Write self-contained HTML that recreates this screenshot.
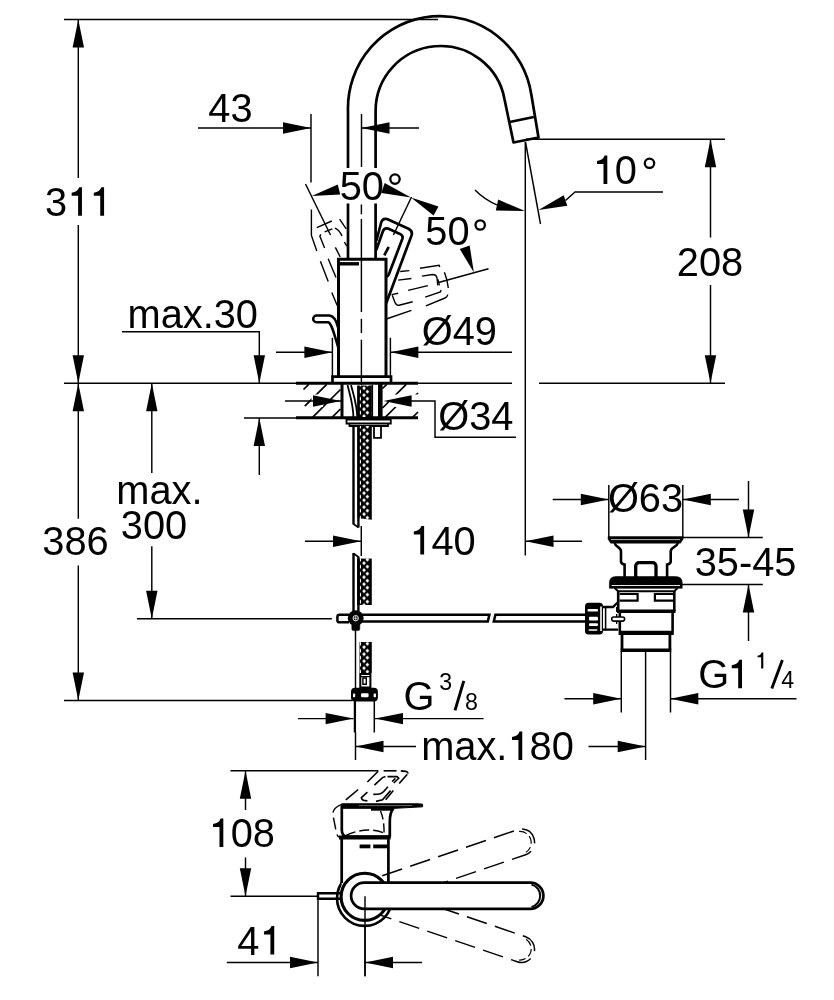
<!DOCTYPE html>
<html><head><meta charset="utf-8"><title>Faucet dimensions</title>
<style>
html,body{margin:0;padding:0;background:#fff;}
svg{display:block;filter:grayscale(1);}
svg text{font-family:"Liberation Sans",sans-serif;fill:#000;stroke:none;font-kerning:none;}
</style></head><body>
<svg width="834" height="1000" viewBox="0 0 834 1000" fill="none" stroke="#000" stroke-linecap="butt">
<defs>
<pattern id="braid" x="357.1" y="3.2" width="14.7" height="7" patternUnits="userSpaceOnUse">
<rect width="14.7" height="7" fill="#000" stroke="none"/>
<rect x="2.8" y="1.7" width="1.1" height="3.6" fill="#fff" stroke="none"/>
<path d="M6.9,-1.9 L8.8,0 L6.9,1.9 L5,0Z M6.9,5.1 L8.8,7 L6.9,8.9 L5,7Z M10.25,1.6 L12.15,3.5 L10.25,5.4 L8.35,3.5Z" fill="#fff" stroke="none"/>
</pattern>
</defs>
<rect x="0" y="0" width="834" height="1000" fill="#fff" stroke="none"/>
<path d="M311.4,209.6 V235.4 L316.8,251" stroke-width="1.4" />
<path d="M320.4,261.2 L328.2,281.6" stroke-width="1.4" />
<path d="M331.8,292.4 L337.2,305.6" stroke-width="1.4" />
<path d="M316.8,227.6 L331.8,221" stroke-width="1.4" />
<path d="M324.6,231.8 L332.4,228.8" stroke-width="1.4" />
<path d="M321,234.3 L319.8,236 L324.6,248" stroke-width="1.4" />
<path d="M334.8,228.2 Q339,229.5 342,236" stroke-width="1.4" />
<path d="M339.6,219.2 L346.2,228.8" stroke-width="1.4" />
<path d="M344.4,242 L346.8,246.2" stroke-width="1.4" />
<path d="M335.4,247.4 L340.2,257" stroke-width="1.4" />
<path d="M328.2,258.8 L336,277.4" stroke-width="1.4" />
<path d="M400.2,271.5 L409.4,270.6" stroke-width="1.4" />
<path d="M420,268.2 L439.1,265.3 L439.8,267" stroke-width="1.4" />
<path d="M398.2,280.1 L411.4,278.5" stroke-width="1.4" />
<path d="M421.9,276.1 L432.5,274.5 Q436.5,274.6 437,278 L437.8,285.3" stroke-width="1.4" />
<path d="M444.4,272.2 Q447.5,280 448.3,288" stroke-width="1.4" />
<path d="M438,279.4 L439.4,285.3" stroke-width="1.4" />
<path d="M408.1,290.4 L427.9,285.6" stroke-width="1.4" />
<path d="M391.6,294.6 L398.2,293.3" stroke-width="1.4" />
<path d="M425.2,297.2 L440.4,291.9 L441,290" stroke-width="1.4" />
<path d="M392.3,295.2 L394.2,300.5 Q396,306 399,305.3 L412.7,301.8" stroke-width="1.4" />
<path d="M425.9,305.8 L445,298 Q447.5,296.8 447.8,294.5" stroke-width="1.4" />
<line x1="386.3" y1="319" x2="411.4" y2="310.4" stroke-width="1.4" />
<line x1="303.5" y1="389.5" x2="308.7" y2="384.3" stroke-width="1.7" />
<line x1="304.8" y1="406.2" x2="326.7" y2="384.3" stroke-width="1.7" />
<line x1="312.8" y1="417.2" x2="340.5" y2="389.5" stroke-width="1.7" />
<line x1="332.3" y1="417.2" x2="340.5" y2="409.0" stroke-width="1.7" />
<line x1="382.5" y1="388.5" x2="386.7" y2="384.3" stroke-width="1.7" />
<line x1="382.5" y1="408.0" x2="406.2" y2="384.3" stroke-width="1.7" />
<line x1="385.4" y1="417.2" x2="396.6" y2="406.0" stroke-width="1.7" />
<line x1="411" y1="400" x2="418" y2="393" stroke-width="1.7" />
<line x1="412.8" y1="417.2" x2="418" y2="412" stroke-width="1.7" />
<rect x="311.5" y="394.5" width="11.5" height="12.5" fill="#fff" stroke="none"/>
<rect x="389" y="394.5" width="29.5" height="12.5" fill="#fff" stroke="none"/>
<line x1="64" y1="19.5" x2="438" y2="19.5" stroke-width="1.45" />
<line x1="78.3" y1="19.5" x2="78.3" y2="178" stroke-width="1.45" />
<line x1="78.3" y1="225" x2="78.3" y2="518.75" stroke-width="1.45" />
<line x1="78.3" y1="565.5" x2="78.3" y2="700.5" stroke-width="1.45" />
<polygon points="78.30,19.50 72.60,47.50 84.00,47.50" fill="#000" stroke="none"/>
<polygon points="78.30,383.20 84.00,355.20 72.60,355.20" fill="#000" stroke="none"/>
<polygon points="78.30,383.20 72.60,411.20 84.00,411.20" fill="#000" stroke="none"/>
<polygon points="78.30,700.50 84.00,672.50 72.60,672.50" fill="#000" stroke="none"/>
<line x1="64" y1="383.2" x2="512" y2="383.2" stroke-width="1.45" />
<line x1="539" y1="383.2" x2="725" y2="383.2" stroke-width="1.45" />
<line x1="64" y1="700.5" x2="352.5" y2="700.5" stroke-width="1.45" />
<text x="45" y="215.7" font-size="39.8">3</text>
<path d="M81.94,215.7 V187.19 H79.22 Q77.81,191.82 71.66,192.73 V195.65 H78.11 V215.7 Z" fill="#000" stroke="none"/>
<path d="M104.07,215.7 V187.19 H101.35 Q99.94,191.82 93.79,192.73 V195.65 H100.24 V215.7 Z" fill="#000" stroke="none"/>
<text x="42.3" y="555" font-size="39.8">386</text>
<line x1="198" y1="128" x2="311" y2="128" stroke-width="1.45" />
<polygon points="311.00,128.00 283.00,122.30 283.00,133.70" fill="#000" stroke="none"/>
<polygon points="361.50,128.00 389.50,133.70 389.50,122.30" fill="#000" stroke="none"/>
<line x1="361.5" y1="128" x2="419" y2="128" stroke-width="1.45" />
<line x1="311" y1="114" x2="311" y2="182.5" stroke-width="1.45" />
<line x1="361.5" y1="114" x2="361.5" y2="167" stroke-width="1.45" />
<text x="208.3" y="122" font-size="39.8">43</text>
<line x1="526" y1="139.3" x2="725" y2="139.3" stroke-width="1.45" />
<line x1="710.5" y1="139.3" x2="710.5" y2="237.5" stroke-width="1.45" />
<line x1="710.5" y1="285" x2="710.5" y2="383.2" stroke-width="1.45" />
<polygon points="710.50,139.30 704.80,167.30 716.20,167.30" fill="#000" stroke="none"/>
<polygon points="710.50,383.20 716.20,355.20 704.80,355.20" fill="#000" stroke="none"/>
<text x="676.8" y="275.75" font-size="39.8">208</text>
<line x1="525.3" y1="142" x2="525.3" y2="555.5" stroke-width="1.45" />
<line x1="525.5" y1="142" x2="540.5" y2="224" stroke-width="1.45" />
<polygon points="525.00,211.00 498.15,199.62 495.85,210.38" fill="#000" stroke="none"/>
<polygon points="538.50,210.00 567.33,205.69 563.67,195.31" fill="#000" stroke="none"/>
<path d="M475,190 A69.5,69.5 0 0 0 497.5,205.2" stroke-width="1.45" />
<path d="M565.5,200.5 L575,192 H663" stroke-width="1.45" />
<path d="M607.31,184 V155.49 H604.59 Q603.18,160.12 597.03,161.03 V163.95 H603.48 V184 Z" fill="#000" stroke="none"/>
<text x="614.63" y="184" font-size="39.8">0</text>
<circle cx="649.5" cy="163.3" r="4.7" stroke-width="2.3" fill="none"/>
<line x1="305.5" y1="184" x2="330.5" y2="235" stroke-width="1.45" />
<line x1="411.5" y1="197" x2="393.4" y2="235" stroke-width="1.45" />
<line x1="488.5" y1="268.7" x2="438.5" y2="282.5" stroke-width="1.45" />
<text x="127.5" y="327.5" font-size="39.8">max.30</text>
<path d="M122,331.8 H259.3 V383" stroke-width="1.45" />
<polygon points="259.30,383.20 265.00,355.20 253.60,355.20" fill="#000" stroke="none"/>
<line x1="244" y1="418" x2="296" y2="418" stroke-width="1.45" />
<polygon points="259.30,418.00 253.60,446.00 265.00,446.00" fill="#000" stroke="none"/>
<line x1="259.3" y1="418" x2="259.3" y2="475" stroke-width="1.45" />
<text x="116.3" y="504.3" font-size="39.8">max.</text>
<text x="120.8" y="538.8" font-size="39.8">300</text>
<line x1="151.8" y1="383.2" x2="151.8" y2="473" stroke-width="1.45" />
<polygon points="151.80,383.20 146.10,411.20 157.50,411.20" fill="#000" stroke="none"/>
<line x1="151.8" y1="546.3" x2="151.8" y2="618.8" stroke-width="1.45" />
<polygon points="151.80,618.80 157.50,590.80 146.10,590.80" fill="#000" stroke="none"/>
<line x1="137" y1="618.8" x2="331.8" y2="618.8" stroke-width="1.45" />
<line x1="276" y1="352.3" x2="332.4" y2="352.3" stroke-width="1.45" />
<polygon points="332.40,352.30 304.40,346.60 304.40,358.00" fill="#000" stroke="none"/>
<polygon points="390.40,352.30 418.40,358.00 418.40,346.60" fill="#000" stroke="none"/>
<line x1="390.4" y1="352.3" x2="512" y2="352.3" stroke-width="1.45" />
<line x1="332.4" y1="337.8" x2="332.4" y2="377" stroke-width="1.45" />
<line x1="390.4" y1="337.8" x2="390.4" y2="377" stroke-width="1.45" />
<text x="421.7" y="345" font-size="39.8">Ø49</text>
<line x1="285" y1="401" x2="341" y2="401" stroke-width="1.45" />
<polygon points="341.00,401.00 313.00,395.30 313.00,406.70" fill="#000" stroke="none"/>
<polygon points="383.60,401.00 411.60,406.70 411.60,395.30" fill="#000" stroke="none"/>
<path d="M410,401 H435 V437.3 H516" stroke-width="1.45" />
<text x="438.2" y="429.5" font-size="39.8">Ø34</text>
<line x1="305" y1="541.3" x2="361" y2="541.3" stroke-width="1.45" />
<polygon points="361.00,541.30 333.00,535.60 333.00,547.00" fill="#000" stroke="none"/>
<line x1="361.3" y1="526" x2="361.3" y2="556" stroke-width="1.45" />
<polygon points="525.50,541.30 553.50,547.00 553.50,535.60" fill="#000" stroke="none"/>
<line x1="525.5" y1="541.3" x2="582" y2="541.3" stroke-width="1.45" />
<path d="M424.11,554.5 V525.99 H421.39 Q419.98,530.62 413.83,531.53 V534.45 H420.28 V554.5 Z" fill="#000" stroke="none"/>
<text x="431.43" y="554.5" font-size="39.8">40</text>
<line x1="608.8" y1="485" x2="608.8" y2="537" stroke-width="1.45" />
<line x1="682.8" y1="485" x2="682.8" y2="537" stroke-width="1.45" />
<line x1="552.7" y1="499.5" x2="608.6" y2="499.5" stroke-width="1.45" />
<polygon points="608.80,499.50 580.80,493.80 580.80,505.20" fill="#000" stroke="none"/>
<polygon points="682.80,499.50 710.80,505.20 710.80,493.80" fill="#000" stroke="none"/>
<line x1="682.8" y1="499.5" x2="739" y2="499.5" stroke-width="1.45" />
<text x="607.9" y="512.4" font-size="39.8">Ø63</text>
<line x1="682" y1="537.5" x2="762.8" y2="537.5" stroke-width="1.45" />
<line x1="682" y1="584.5" x2="762.8" y2="584.5" stroke-width="1.45" />
<line x1="748.5" y1="481" x2="748.5" y2="537.5" stroke-width="1.45" />
<polygon points="748.50,537.50 754.20,509.50 742.80,509.50" fill="#000" stroke="none"/>
<polygon points="748.50,584.50 742.80,612.50 754.20,612.50" fill="#000" stroke="none"/>
<line x1="748.5" y1="584.5" x2="748.5" y2="641" stroke-width="1.45" />
<text x="694.7" y="575.5" font-size="39.8">35-45</text>
<text x="698.3" y="688.3" font-size="39.8">G</text>
<path d="M742.01,688.3 V659.79 H739.29 Q737.88,664.42 731.73,665.33 V668.25 H738.18 V688.3 Z" fill="#000" stroke="none"/>
<path d="M763.3,668.6 V652.62 H761.77 Q760.98,655.22 757.54,655.73 V657.37 H761.15 V668.6 Z" fill="#000" stroke="none"/>
<path d="M771.8,688.6 L782.4,660.1" stroke-width="2.9" />
<text x="781.3" y="688.3" font-size="23.2">4</text>
<line x1="564.5" y1="698.8" x2="621" y2="698.8" stroke-width="1.45" />
<polygon points="621.20,698.80 593.20,693.10 593.20,704.50" fill="#000" stroke="none"/>
<polygon points="670.30,698.80 698.30,704.50 698.30,693.10" fill="#000" stroke="none"/>
<line x1="670.3" y1="698.8" x2="796.5" y2="698.8" stroke-width="1.45" />
<text x="403.5" y="710" font-size="39.8">G</text>
<text x="439.2" y="690.2" font-size="23.2">3</text>
<path d="M455,710.3 L463.8,680.8" stroke-width="2.9" />
<text x="465" y="709.5" font-size="23.2">8</text>
<line x1="298" y1="718.6" x2="353.5" y2="718.6" stroke-width="1.45" />
<polygon points="353.60,718.60 325.60,712.90 325.60,724.30" fill="#000" stroke="none"/>
<polygon points="375.00,718.60 403.00,724.30 403.00,712.90" fill="#000" stroke="none"/>
<line x1="375" y1="718.6" x2="483.6" y2="718.6" stroke-width="1.45" />
<text x="421.2" y="760" font-size="39.8">max.</text>
<path d="M522.26,760 V731.49 H519.54 Q518.13,736.12 511.98,737.03 V739.95 H518.43 V760 Z" fill="#000" stroke="none"/>
<text x="529.58" y="760" font-size="39.8">80</text>
<polygon points="355.50,746.50 383.50,752.20 383.50,740.80" fill="#000" stroke="none"/>
<line x1="355.5" y1="746.5" x2="416" y2="746.5" stroke-width="1.45" />
<line x1="588.5" y1="746.5" x2="645.5" y2="746.5" stroke-width="1.45" />
<polygon points="645.70,746.50 617.70,740.80 617.70,752.20" fill="#000" stroke="none"/>
<line x1="230.5" y1="770.7" x2="378.3" y2="770.7" stroke-width="1.45" />
<line x1="230.5" y1="896.3" x2="318" y2="896.3" stroke-width="1.45" />
<line x1="245.5" y1="770.8" x2="245.5" y2="810" stroke-width="1.45" />
<line x1="245.5" y1="857.5" x2="245.5" y2="896.3" stroke-width="1.45" />
<polygon points="245.50,770.80 239.80,798.80 251.20,798.80" fill="#000" stroke="none"/>
<polygon points="245.50,896.30 251.20,868.30 239.80,868.30" fill="#000" stroke="none"/>
<path d="M223.31,847 V818.49 H220.59 Q219.18,823.12 213.03,824.03 V826.95 H219.48 V847 Z" fill="#000" stroke="none"/>
<text x="230.63" y="847" font-size="39.8">08</text>
<line x1="226.8" y1="962.5" x2="318" y2="962.5" stroke-width="1.45" />
<polygon points="318.00,962.50 290.00,956.80 290.00,968.20" fill="#000" stroke="none"/>
<polygon points="365.00,962.50 393.00,968.20 393.00,956.80" fill="#000" stroke="none"/>
<line x1="365" y1="962.5" x2="422" y2="962.5" stroke-width="1.45" />
<line x1="318" y1="893.8" x2="318" y2="976.3" stroke-width="1.45" />
<line x1="365" y1="896.3" x2="365" y2="976.3" stroke-width="1.45" />
<text x="237.3" y="954.5" font-size="39.8">4</text>
<path d="M274.24,954.5 V925.99 H271.52 Q270.11,930.62 263.96,931.53 V934.45 H270.41 V954.5 Z" fill="#000" stroke="none"/>
<path d="M348,259 V111 A92.2,92.2 0 0 1 531.40,94.99 L538.5,137.5 L513.5,142.5 L504.61,99.71 A65,65 0 0 0 375.6,111 V259" stroke-width="2.7" stroke-linejoin="round"/>
<line x1="509.75" y1="122" x2="533.8" y2="117" stroke-width="2.7" />
<path d="M338.5,376.5 V259.3 H386 V376.5" stroke-width="3.0" stroke-linejoin="miter" fill="#fff"/>
<line x1="339.5" y1="263.8" x2="359" y2="263.8" stroke-width="3.4" />
<path d="M332.5,382.5 V376.7 H391 V382.5" stroke-width="2.7" />
<line x1="361.4" y1="204.5" x2="361.4" y2="214.3" stroke-width="1.45" />
<line x1="361.4" y1="219" x2="361.4" y2="312" stroke-width="1.45" />
<line x1="361.4" y1="318.8" x2="361.4" y2="333" stroke-width="1.45" />
<line x1="361.4" y1="339.7" x2="361.4" y2="385" stroke-width="1.45" />
<line x1="296" y1="383.3" x2="418" y2="383.3" stroke-width="3.0" />
<line x1="296" y1="417.8" x2="418" y2="417.8" stroke-width="3.0" />
<line x1="342" y1="383" x2="342" y2="418" stroke-width="3.0" />
<line x1="380.3" y1="383" x2="380.3" y2="418" stroke-width="4.6" />
<line x1="372.3" y1="385" x2="372.3" y2="418" stroke-width="1.6" />
<path d="M347.5,385 C350,395 353.5,405 353.5,419" stroke-width="1.8" />
<path d="M351,385 C353.5,395 357.3,405 357.3,419" stroke-width="1.8" />
<path d="M346.5,419.5 H390.8 V423.5 H346.5 Z" stroke-width="1.8" />
<path d="M349.5,423.5 V426 H388 V423.5" stroke-width="1.8" />
<path d="M374,427 V437.8 H381 V427" stroke-width="1.8" />
<line x1="353.5" y1="426" x2="353.5" y2="524.5" stroke-width="2.4" />
<line x1="353.5" y1="553" x2="353.5" y2="611" stroke-width="2.4" />
<path d="M353.5,524 L358.5,527.5 M353.5,553.5 L358.5,557" stroke-width="1.6" />
<path d="M357.1,385.5 H371.8 V417 L357.1,417 Z" fill="url(#braid)" stroke="none"/>
<path d="M357.1,426 H371.8 V519.8 L357.1,518 Z" fill="url(#braid)" stroke="none"/>
<path d="M357.1,558.6 H371.8 V605 L357.1,605 Z" fill="url(#braid)" stroke="none"/>
<path d="M359.5,642 H371.8 V673 L359.5,673 Z" fill="url(#braid)" stroke="none"/>
<line x1="358.4" y1="518" x2="358.4" y2="527.5" stroke-width="2.4" />
<line x1="358.4" y1="556.5" x2="358.4" y2="611" stroke-width="2.4" />
<line x1="355.5" y1="629" x2="355.5" y2="688" stroke-width="1.45" />
<path d="M362,614.7 H489.4 L487.8,621.5 H362" stroke-width="2.5" />
<path d="M586,614.7 H495.4 L493.8,621.5 H586" stroke-width="2.5" />
<circle cx="355.7" cy="618.2" r="7.9" fill="#000" stroke="none"/>
<circle cx="355.7" cy="618.2" r="2.7" fill="none" stroke="#fff" stroke-width="0.9"/>
<path d="M353.2,618.2 H358.2 M355.7,615.7 V620.7" stroke-width="0.7" stroke="#fff"/>
<path d="M351.8,624.5 V629 Q351.8,630.6 353.4,630.6 H358.2 Q359.8,630.6 359.8,629 V624.5 Z" stroke-width="0.5" fill="#000"/>
<path d="M349,614.7 H339.5 Q337.4,614.7 337.4,616.8 V620.2 Q337.4,622.3 339.5,622.3 H349" stroke-width="2.5" />
<path d="M360.3,674 H370.4 V687.5 H360.3 Z" stroke-width="2.0" />
<path d="M362.9,678 H366.3 V684.3 H362.9 Z" stroke-width="1.4" />
<line x1="360.3" y1="676.6" x2="370.4" y2="676.6" stroke-width="1.2" />
<rect x="351" y="687.8" width="26.9" height="13.7" rx="4" fill="#000" stroke="none"/>
<rect x="361" y="693.2" width="7.6" height="4.1" rx="1.2" fill="#fff" stroke="none"/>
<rect x="353" y="693.6" width="2.2" height="3.6" rx="0.8" fill="#fff" stroke="none"/>
<rect x="373.6" y="693.6" width="2.4" height="3.6" rx="0.8" fill="#fff" stroke="none"/>
<line x1="354.9" y1="701" x2="354.9" y2="732.5" stroke-width="2.3" />
<line x1="374.3" y1="701" x2="374.3" y2="732.5" stroke-width="1.5" />
<line x1="355.5" y1="732" x2="355.5" y2="760" stroke-width="1.45" />
<path d="M376.3,241 L381.2,222.5 Q382.5,217.8 387,219 L408.5,228.7 Q413,231 411.5,235.5 L386.3,303" stroke-width="2.7" stroke-linejoin="round"/>
<path d="M376.3,250 L382.8,231.5 Q384.2,227.5 388,228.6 L400,233.9 Q403.5,235.6 402.3,239 L388.8,274.5 Q387.6,277 386,276.8" stroke-width="2.7" stroke-linejoin="round"/>
<path d="M388.7,246.8 L384.3,255.3" stroke-width="2.7" />
<path d="M338.2,328 C336.5,321 334,316 329.5,315.6 H316.5 A3.3,3.3 0 0 0 316.5,322.2 H328 C332,323 334.5,336 338.4,348" stroke-width="2.5" stroke-linejoin="round"/>
<path d="M608,536.6 H683.2 V539 L680.5,543.2 H610.7 L608,539 Z" stroke-width="0.5" fill="#000"/>
<line x1="611" y1="539.6" x2="680.2" y2="539.6" stroke-width="0.7" stroke="#fff"/>
<path d="M614.6,543 C616,548 621,546.5 621,551.5 V561.5 Q621,563.8 624.6,564.6 V577" stroke-width="2.6" />
<path d="M677.9,543 C676.5,548 670.7,546.5 670.7,551.5 V561.5 Q670.7,563.8 667.1,564.6 V577" stroke-width="2.6" />
<rect x="635.7" y="562.6" width="20.3" height="17" rx="3.4" fill="none" stroke="#000" stroke-width="3.3"/>
<path d="M609.4,588.3 V583 Q609.4,576.6 616,576.6 H675.6 Q682.2,576.6 682.2,583 V588.3 Z" stroke-width="0.6" fill="#000"/>
<line x1="611.7" y1="585.5" x2="680" y2="585.5" stroke-width="0.9" stroke="#fff"/>
<path d="M614.6,588 L618.2,591.2 H674.3 L677.6,588" stroke-width="2.0" />
<path d="M618.2,591 V611.3 M674.3,591 V611.3" stroke-width="2.6" />
<path d="M619.6,594 H637.6 V600.6 H619.6" stroke-width="2.2" />
<path d="M674.3,594 H654.9 V600.6 H674.3" stroke-width="2.2" />
<line x1="617" y1="611.3" x2="675.5" y2="611.3" stroke-width="3.4" />
<path d="M619.8,611.3 V631 M672.6,611.3 V631" stroke-width="2.6" />
<line x1="618.6" y1="632.9" x2="673.8" y2="632.9" stroke-width="4.2" />
<path d="M622,634 V650 M669.9,634 V650" stroke-width="2.8" />
<line x1="620.6" y1="650.3" x2="671.3" y2="650.3" stroke-width="3.4" />
<line x1="621.3" y1="651" x2="621.3" y2="712.5" stroke-width="1.45" />
<line x1="670.5" y1="651" x2="670.5" y2="712.5" stroke-width="1.45" />
<line x1="645.6" y1="651" x2="645.6" y2="760" stroke-width="1.45" />
<rect x="585" y="602.7" width="18" height="31.7" rx="3.5" fill="#000" stroke="none"/>
<rect x="587.5" y="609" width="10.5" height="2.5" rx="1" fill="#fff" stroke="none"/>
<rect x="589" y="616.8" width="9" height="3.6" rx="1" fill="#fff" stroke="none"/>
<rect x="589" y="623.3" width="9" height="2.8" rx="1" fill="#fff" stroke="none"/>
<rect x="588.5" y="629.2" width="9" height="1.6" rx="1" fill="#fff" stroke="none"/>
<rect x="600.2" y="606.5" width="1.6" height="24.5" fill="#fff" stroke="none"/>
<line x1="605.6" y1="606" x2="605.6" y2="630.5" stroke-width="1.6" />
<path d="M603,607 H613 L617.6,602.5 M603,629.6 H618" stroke-width="2.4" />
<line x1="616.7" y1="607" x2="616.7" y2="624" stroke-width="1.3" stroke-dasharray="5 2"/>
<rect x="611.7" y="617" width="12.9" height="4.1" rx="2" fill="#fff" stroke="#000" stroke-width="1.6"/>
<circle cx="364.6" cy="898.3" r="27.6" fill="#fff" stroke="#000" stroke-width="2.6"/>
<rect x="341.7" y="838" width="46.7" height="60" fill="#fff" stroke="none"/>
<path d="M341.7,836.5 V883 M388.4,836.5 V883" stroke-width="2.7" />
<g transform="rotate(-18.8 364.25 895.75)" stroke-dasharray="21 8.5" stroke-dashoffset="6">
<path d="M364.25,882.6 H530.25 A13.15,13.15 0 0 1 530.25,908.9 H364.25" stroke-width="1.5" />
</g>
<g transform="rotate(-18.8 364.25 895.75)" stroke-dasharray="8 3.5">
<path d="M531.5,884.8 A11.3,11.3 0 0 1 531.5,906.7" stroke-width="1.2" />
</g>
<g transform="rotate(18.8 364.25 895.75)" stroke-dasharray="21 8.5" stroke-dashoffset="14">
<path d="M364.25,882.6 H530.25 A13.15,13.15 0 0 1 530.25,908.9 H364.25" stroke-width="1.5" />
</g>
<g transform="rotate(18.8 364.25 895.75)" stroke-dasharray="8 3.5">
<path d="M531.5,884.8 A11.3,11.3 0 0 1 531.5,906.7" stroke-width="1.2" />
</g>
<circle cx="364.7" cy="896.8" r="23.6" fill="#fff" stroke="#000" stroke-width="3.1"/>
<path d="M341,893.3 H318 V898.8 H341" stroke-width="2.4" />
<path d="M364.25,882.6 H530.25 A13.15,13.15 0 0 1 530.25,908.9 H364.25 A13.15,13.15 0 0 1 364.25,882.6 Z" stroke-width="2.7" fill="#fff"/>
<path d="M531.5,884.6 A11.5,11.5 0 0 1 531.5,906.9" stroke-width="2.0" />
<line x1="365" y1="896.3" x2="365" y2="976.3" stroke-width="1.45" />
<path d="M341.6,803.8 H418 L422.6,804.2 V806.8 L395,808.3 H341.6 Z" stroke-width="1.0" fill="#000"/>
<path d="M341.8,806 V830 Q341.8,836.6 347.5,836.6 H389.8 V822 Q389.8,812 393.5,808.5" stroke-width="2.7" stroke-linejoin="round"/>
<line x1="339" y1="837.4" x2="390.6" y2="837.4" stroke-width="4.0" />
<line x1="371" y1="809.4" x2="392" y2="809.4" stroke-width="2.6" />
<line x1="359" y1="805.6" x2="412" y2="805.6" stroke-width="0.7" stroke="#999"/>
<line x1="359.6" y1="846.4" x2="370.4" y2="846.4" stroke-width="3.8" />
<line x1="373.2" y1="846.4" x2="387.6" y2="846.4" stroke-width="3.8" />
<path d="M378.2,771.2 L367.4,782" stroke-width="1.6" />
<path d="M358.2,789.5 L345.8,799.8" stroke-width="1.6" />
<path d="M383.6,770.8 H396.5" stroke-width="1.6" />
<path d="M400.8,770.9 L405.8,771.4 Q408.2,771.9 407.8,773.6" stroke-width="1.6" />
<path d="M407.3,774.2 L399.2,783.6" stroke-width="1.6" />
<path d="M385.5,776.6 L382.5,777.6 L374.4,785.2" stroke-width="1.6" />
<path d="M387.5,776.6 H397 L398.7,778.2 L393.8,783" stroke-width="1.6" />
<path d="M395.4,778.4 L392.2,781.6" stroke-width="1.6" />
<path d="M387.9,786.8 L383.5,791.8 Q381.5,794 378,794.2 L373.3,794.4" stroke-width="1.6" />
<path d="M367.4,792.2 L361.4,797.6 Q361.8,800.3 364.5,800.5 L367.4,800.9" stroke-width="1.6" />
<path d="M393.3,790.6 L385.7,799.8" stroke-width="1.6" />
<path d="M390.6,790.6 L382.5,799.8 L376,801.4" stroke-width="1.6" />
<path d="M341.2,804.6 C333,808 332,812 333.5,818 L336.5,833 Q337.5,837.8 342,837.8" stroke-width="1.4" stroke-dasharray="12 5"/>
<path d="M346,835.5 Q366,826 384,833" stroke-width="1.4" stroke-dasharray="10 4"/>
<path d="M380.5,811 Q384.5,820 384,835" stroke-width="1.4" stroke-dasharray="9 4"/>
<rect x="338" y="168" width="64" height="35.5" fill="#fff" stroke="none"/>
<text x="339.7" y="200" font-size="39.8">50</text>
<circle cx="395" cy="179.1" r="4.7" stroke-width="2.3" fill="none"/>
<text x="425.3" y="245.3" font-size="39.8">50</text>
<circle cx="480.2" cy="225" r="4.7" stroke-width="2.3" fill="none"/>
<polygon points="473.90,272.60 469.64,245.41 459.76,248.99" fill="#000" stroke="none"/>
<polygon points="311.75,196.00 340.22,194.61 337.78,184.39" fill="#000" stroke="none"/>
<polygon points="411.00,197.50 384.69,183.03 381.31,192.97" fill="#000" stroke="none"/>
<polygon points="411.00,197.50 433.51,215.62 438.49,206.38" fill="#000" stroke="none"/>
</svg>
</body></html>
